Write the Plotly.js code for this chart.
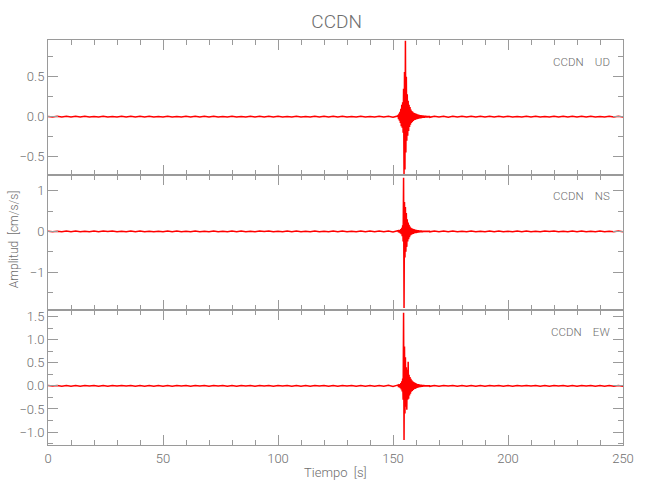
<!DOCTYPE html>
<html>
<head>
<meta charset="utf-8">
<script src="https://cdn.plot.ly/plotly-3.0.1.min.js"></script>
<style>
html,body{margin:0;padding:0;background:#fff}
#chart{width:650px;height:500px}
</style>
</head>
<body>
<div id="chart"></div>
<script>
// ---- sampling times (s) ----
var tPre = [0,2,4,6,8,10,12,14,16,18,20,22,24,26,28,30,32,34,36,38,40,42,44,46,48,50,52,54,56,58,60,62,64,66,68,70,72,74,76,78,80,82,84,86,88,90,92,94,96,98,100,102,104,106,108,110,112,114,116,118,120,122,124,126,128,130,132,134,136,138,140,142,144,146,148,150,152];
var tEvent = [152.2,152.4,152.6,152.8,153.0,153.2,153.4,153.6,153.8,154.0,
  154.2,154.4,154.6,154.8,155.0,155.2,155.4,155.6,155.8,156.0,
  156.2,156.4,156.6,156.8,157.0,157.2,157.4,157.6,157.8,158.0,
  158.2,158.4,158.6,158.8,159.0,159.2,159.4,159.6,159.8,160.0,
  160.2,160.4,160.6,160.8,161.0,161.2,161.4,161.6,161.8,162.0,
  162.2,162.4,162.6,162.8,163.0,163.2,163.4,163.6,163.8,164.0,
  164.2,164.4,164.6,164.8,165.0,165.2,165.4,165.6,165.8,166.0];
var tPost = [168,170,172,174,176,178,180,182,184,186,188,190,192,194,196,198,200,202,204,206,208,210,212,214,216,218,220,222,224,226,228,230,232,234,236,238,240,242,244,246,248,250];

// ---- UD component (cm/s/s) ----
var udPre = [0.003,-0.004,0.005,-0.003,0.004,-0.005,0.004,-0.003,0.005,-0.004,
  0.003,-0.005,0.004,-0.004,0.003,-0.005,0.005,-0.003,0.004,-0.004,
  0.005,-0.003,0.004,-0.005,0.003,-0.004,0.005,-0.004,0.003,-0.005,
  0.004,-0.003,0.005,-0.004,0.004,-0.003,0.005,-0.005,0.003,-0.004,
  0.004,-0.005,0.003,-0.004,0.005,-0.003,0.004,-0.005,0.004,-0.003,
  0.005,-0.004,0.003,-0.005,0.004,-0.004,0.003,-0.005,0.005,-0.003,
  0.004,-0.004,0.005,-0.003,0.004,-0.005,0.003,-0.004,0.005,-0.004,
  0.003,-0.005,0.004,-0.003,0.005,-0.006,0.008];
var udEvent = [0.02,-0.03,0.04,-0.05,0.06,-0.08,0.10,-0.12,0.15,-0.14,
  0.18,-0.20,0.35,-0.72,0.56,-0.66,0.95,-0.45,0.50,-0.30,
  0.28,-0.24,0.20,-0.18,0.15,-0.13,0.12,-0.10,0.09,-0.08,
  0.07,-0.065,0.06,-0.055,0.05,-0.045,0.045,-0.04,0.04,-0.035,
  0.035,-0.03,0.03,-0.028,0.026,-0.025,0.024,-0.022,0.02,-0.02,
  0.018,-0.017,0.016,-0.015,0.015,-0.014,0.013,-0.013,0.012,-0.012,
  0.011,-0.011,0.010,-0.010,0.009,-0.009,0.009,-0.008,0.008,-0.008];
var udPost = [0.006,-0.005,0.005,-0.006,0.004,-0.005,0.005,-0.004,0.005,-0.004,
  0.004,-0.005,0.004,-0.003,0.005,-0.004,0.004,-0.005,0.003,-0.004,
  0.005,-0.004,0.004,-0.005,0.003,-0.004,0.004,-0.005,0.004,-0.003,
  0.005,-0.004,0.004,-0.005,0.004,-0.004,0.003,-0.005,0.004,-0.004,
  0.004,-0.003];

// ---- NS component ----
var nsPre = [0.006,-0.008,0.005,-0.007,0.009,-0.006,0.007,-0.008,0.006,-0.007,
  0.008,-0.006,0.007,-0.005,0.008,-0.007,0.006,-0.008,0.007,-0.006,
  0.007,-0.008,0.006,-0.007,0.005,-0.008,0.008,-0.006,0.007,-0.007,
  0.006,-0.008,0.008,-0.006,0.006,-0.007,0.008,-0.007,0.005,-0.008,
  0.007,-0.006,0.008,-0.007,0.006,-0.007,0.008,-0.005,0.007,-0.008,
  0.006,-0.006,0.007,-0.008,0.008,-0.006,0.005,-0.007,0.008,-0.007,
  0.006,-0.008,0.007,-0.006,0.007,-0.008,0.006,-0.006,0.008,-0.007,
  0.007,-0.006,0.008,-0.008,0.010,-0.012,0.014];
var nsEvent = [0.02,-0.02,0.03,-0.03,0.04,-0.05,0.06,-0.07,0.09,-0.12,
  0.15,-0.25,1.32,-1.88,0.72,-0.64,0.60,-0.50,0.45,-0.38,
  0.30,-0.25,0.22,-0.19,0.16,-0.14,0.12,-0.10,0.09,-0.08,
  0.075,-0.07,0.065,-0.06,0.055,-0.05,0.05,-0.045,0.04,-0.04,
  0.036,-0.034,0.032,-0.03,0.028,-0.027,0.026,-0.025,0.024,-0.023,
  0.022,-0.021,0.02,-0.02,0.019,-0.018,0.017,-0.017,0.016,-0.015,
  0.015,-0.014,0.014,-0.013,0.013,-0.012,0.012,-0.011,0.011,-0.010];
var nsPost = [0.009,-0.008,0.008,-0.009,0.007,-0.008,0.006,-0.007,0.008,-0.007,
  0.006,-0.008,0.007,-0.006,0.008,-0.007,0.005,-0.007,0.008,-0.006,
  0.007,-0.008,0.006,-0.007,0.008,-0.005,0.007,-0.007,0.006,-0.008,
  0.008,-0.006,0.007,-0.008,0.005,-0.007,0.008,-0.006,0.006,-0.007,
  0.007,-0.006];

// ---- EW component ----
var ewPre = [0.007,-0.006,0.008,-0.007,0.005,-0.008,0.006,-0.008,0.007,-0.005,
  0.008,-0.007,0.006,-0.008,0.007,-0.006,0.008,-0.006,0.007,-0.008,
  0.005,-0.007,0.008,-0.007,0.006,-0.008,0.006,-0.007,0.008,-0.006,
  0.007,-0.008,0.005,-0.006,0.008,-0.007,0.006,-0.006,0.008,-0.008,
  0.006,-0.007,0.007,-0.005,0.008,-0.008,0.007,-0.006,0.005,-0.007,
  0.008,-0.006,0.006,-0.008,0.007,-0.007,0.006,-0.008,0.007,-0.005,
  0.008,-0.007,0.006,-0.007,0.008,-0.006,0.007,-0.008,0.005,-0.007,
  0.006,-0.008,0.007,-0.008,0.010,-0.012,0.015];
var ewEvent = [0.02,-0.025,0.03,-0.035,0.04,-0.05,0.06,-0.08,0.10,-0.12,
  0.16,-0.30,1.58,-1.17,0.85,-0.60,0.62,-0.45,0.40,-0.52,
  0.35,-0.30,0.52,-0.28,0.24,-0.21,0.19,-0.17,0.15,-0.13,
  0.12,-0.11,0.10,-0.09,0.08,-0.075,0.07,-0.065,0.06,-0.055,
  0.05,-0.045,0.04,-0.04,0.036,-0.033,0.03,-0.028,0.026,-0.025,
  0.023,-0.022,0.021,-0.02,0.019,-0.018,0.017,-0.016,0.015,-0.015,
  0.014,-0.013,0.013,-0.012,0.012,-0.011,0.011,-0.010,0.010,-0.010];
var ewPost = [0.008,-0.007,0.008,-0.006,0.007,-0.008,0.006,-0.007,0.008,-0.007,
  0.006,-0.008,0.007,-0.006,0.008,-0.007,0.005,-0.008,0.007,-0.006,
  0.008,-0.006,0.007,-0.007,0.006,-0.008,0.008,-0.005,0.007,-0.008,
  0.006,-0.007,0.008,-0.006,0.007,-0.008,0.005,-0.007,0.007,-0.008,
  0.006,-0.007];

var stationName = 'CCDN';
var componentNames = ['UD', 'NS', 'EW'];

var tiempo = tPre.concat(tEvent, tPost);
var ud = udPre.concat(udEvent, udPost);
var ns = nsPre.concat(nsEvent, nsPost);
var ew = ewPre.concat(ewEvent, ewPost);

var FONT = 'Roboto, Noto Sans, sans-serif';
var TXT = '#6e6e6e';
var LINE = '#9a9a9a';
var RED = '#ff0000';

function tr(y, xa, ya) {
  return {x: tiempo, y: y, xaxis: xa, yaxis: ya, type: 'scatter', mode: 'lines',
    line: {color: RED, width: 1.5}, hoverinfo: 'skip', showlegend: false};
}
function xax(anchor, labels) {
  return {domain: [0, 1], anchor: anchor, range: [0, 250], dtick: 50, tick0: 0,
    ticks: 'inside', ticklen: 10, tickcolor: LINE, tickwidth: 1,
    minor: {dtick: 10, ticks: 'inside', ticklen: 5, tickcolor: LINE, tickwidth: 1},
    showline: true, linecolor: LINE, linewidth: 1, mirror: 'allticks',
    showgrid: false, zeroline: false, showticklabels: labels,
    tickfont: {family: FONT, size: 13, color: TXT, weight: 300}, ticklabelstandoff: 1};
}
function yax(anchor, dom, rng, dt, mdt, fmt) {
  return {domain: dom, anchor: anchor, range: rng, dtick: dt, tick0: 0, tickformat: fmt,
    ticks: 'inside', ticklen: 10, tickcolor: LINE, tickwidth: 1,
    minor: {dtick: mdt, ticks: 'inside', ticklen: 5, tickcolor: LINE, tickwidth: 1},
    showline: true, linecolor: LINE, linewidth: 1, mirror: 'allticks',
    showgrid: false, zeroline: false,
    tickfont: {family: FONT, size: 13, color: TXT, weight: 300}, ticklabelstandoff: 0};
}

var data = [tr(ud, 'x', 'y'), tr(ns, 'x2', 'y2'), tr(ew, 'x3', 'y3')];

function compLabel(name, y) {
  return {xref: 'paper', yref: 'paper', x: 0.981, y: y, xanchor: 'right', yanchor: 'middle',
    text: stationName + '\u00a0\u00a0\u00a0\u00a0' + name, showarrow: false,
    font: {family: FONT, size: 11.5, color: TXT, weight: 300}};
}

var layout = {
  width: 650, height: 500,
  margin: {l: 48, r: 27, t: 40, b: 55},
  paper_bgcolor: '#fff', plot_bgcolor: '#fff',
  title: {text: stationName, x: 0.502, xref: 'paper', xanchor: 'center', y: 0.958, yanchor: 'middle',
    font: {family: FONT, size: 19, color: TXT, weight: 300}},
  xaxis: xax('y', false),
  xaxis2: xax('y2', false),
  xaxis3: xax('y3', true),
  yaxis: yax('x', [0.6667, 1], [-0.73, 0.96], 0.5, 0.25, '.1f'),
  yaxis2: yax('x2', [0.3333, 0.6667], [-1.93, 1.385], 1, 0.5, 'd'),
  yaxis3: yax('x3', [0, 0.3333], [-1.28, 1.64], 0.5, 0.25, '.1f'),
  annotations: [
    compLabel(componentNames[0], 0.9457),
    compLabel(componentNames[1], 0.615),
    compLabel(componentNames[2], 0.279),
    {xref: 'paper', yref: 'paper', x: 0.5, y: -0.0667, xanchor: 'center', yanchor: 'middle',
      text: 'Tiempo\u00a0\u00a0[s]', showarrow: false, font: {family: FONT, size: 13, color: TXT, weight: 300}},
    {xref: 'paper', yref: 'paper', x: -0.059, y: 0.506, xanchor: 'center', yanchor: 'middle',
      textangle: -90, text: 'Amplitud\u00a0\u00a0[cm/s/s]', showarrow: false,
      font: {family: FONT, size: 12, color: TXT, weight: 300}}
  ]
};

if (tiempo.length !== ud.length || tiempo.length !== ns.length || tiempo.length !== ew.length) {
  console.error('length mismatch', tiempo.length, ud.length, ns.length, ew.length);
}

Plotly.newPlot('chart', data, layout, {displayModeBar: false, staticPlot: true});
</script>
</body>
</html>
